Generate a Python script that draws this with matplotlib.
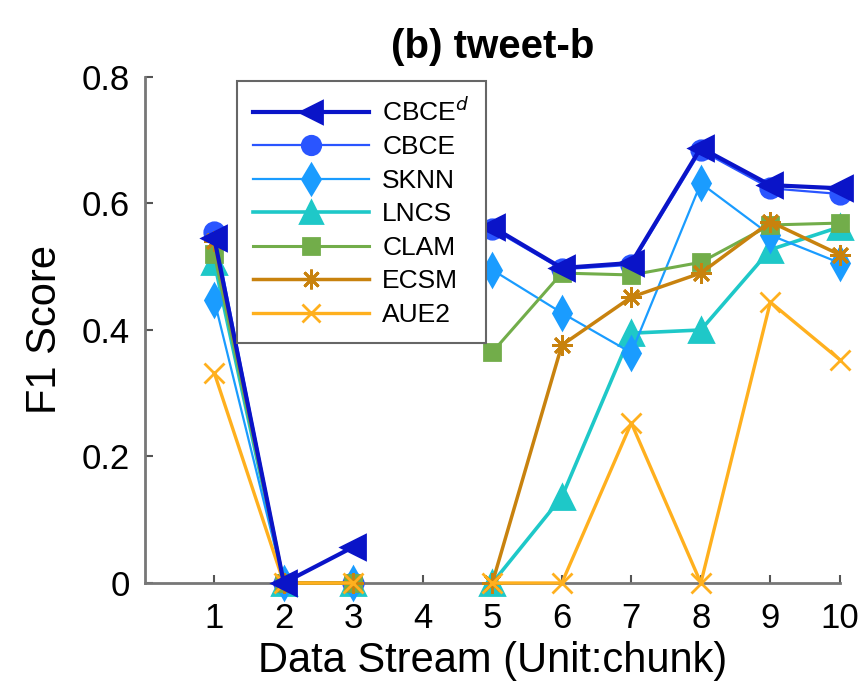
import matplotlib
matplotlib.use('Agg')
import matplotlib.pyplot as plt
import numpy as np

plt.rcParams['font.family'] = ['Liberation Sans', 'DejaVu Sans']

chunks = [1, 2, 3, 4, 5, 6, 7, 8, 9, 10]
nan = np.nan

cbce_d = [0.545, 0.0, 0.057, nan, 0.563, 0.498, 0.506, 0.688, 0.629, 0.624]
cbce = [0.555, 0.0, 0.0, nan, 0.560, 0.496, 0.503, 0.684, 0.624, 0.615]
sknn = [0.447, 0.0, 0.0, nan, 0.495, 0.427, 0.364, 0.632, 0.55, 0.506]
lncs = [0.507, 0.0, 0.0, nan, 0.0, 0.136, 0.395, 0.40, 0.527, 0.563]
clam = [0.52, 0.0, 0.0, nan, 0.365, 0.49, 0.487, 0.507, 0.566, 0.569]
ecsm = [0.54, 0.0, 0.0, nan, 0.0, 0.376, 0.452, 0.49, 0.571, 0.519]
aue2 = [0.332, 0.0, 0.0, nan, 0.0, 0.0, 0.253, 0.0, 0.444, 0.353]

names = ['CBCE$^d$', 'CBCE', 'SKNN', 'LNCS', 'CLAM', 'ECSM', 'AUE2']
series = [cbce_d, cbce, sknn, lncs, clam, ecsm, aue2]
colors = ['#0a14c8', '#2a55ff', '#1a9cff', '#1ec8c8', '#72ad4a', '#c8820e', '#ffb01e']
markers = ['<', 'o', 'd', '^', 's', (8, 2, 0), 'x']
msizes = [17, 14, 16, 17, 12, 15, 14]
lwidths = [3.0, 1.6, 1.6, 2.6, 2.2, 2.5, 2.4]
zorders = [10, 4, 5, 3, 6, 7, 8]

fig = plt.figure(figsize=(8.62, 6.91), dpi=100)
ax = fig.add_axes([0.168, 0.1563, 0.8063, 0.7323])

for y, name, c, m, ms, lw, z in zip(series, names, colors, markers, msizes, lwidths, zorders):
    ax.plot(chunks, y, color=c, marker=m, markersize=ms, linewidth=lw,
            markeredgecolor=c, markerfacecolor=c, markeredgewidth=2,
            label=name, zorder=z, clip_on=False)

ax.set_xlim(0, 10)
ax.set_ylim(0, 0.8)
ax.set_xticks(chunks)
ax.set_yticks([0, 0.2, 0.4, 0.6, 0.8])
ax.set_yticklabels(['0', '0.2', '0.4', '0.6', '0.8'])
ax.tick_params(direction='in', length=6, width=1.5, color='#555555',
               labelsize=25)
ax.tick_params(axis='x', pad=14)
ax.tick_params(axis='y', pad=11)
for s in ['top', 'right']:
    ax.spines[s].set_visible(False)
for s in ['left', 'bottom']:
    ax.spines[s].set_color('#777777')
    ax.spines[s].set_linewidth(2)

ax.set_xlabel('Data Stream (Unit:chunk)', fontsize=30, labelpad=4)
ax.set_ylabel('F1 Score', fontsize=30, labelpad=12)
ax.set_title('(b) tweet-b', fontsize=29, fontweight='bold', pad=14)

leg = ax.legend(loc='upper left', bbox_to_anchor=(0.132, 0.992),
                fontsize=19, handlelength=4.4, handletextpad=0.5,
                labelspacing=0.36, borderpad=0.62, borderaxespad=0,
                markerscale=0.95,
                fancybox=False, framealpha=1, edgecolor='#666666')
leg.get_frame().set_linewidth(1.5)
leg.set_zorder(20)

fig.savefig('out.png', dpi=100)
